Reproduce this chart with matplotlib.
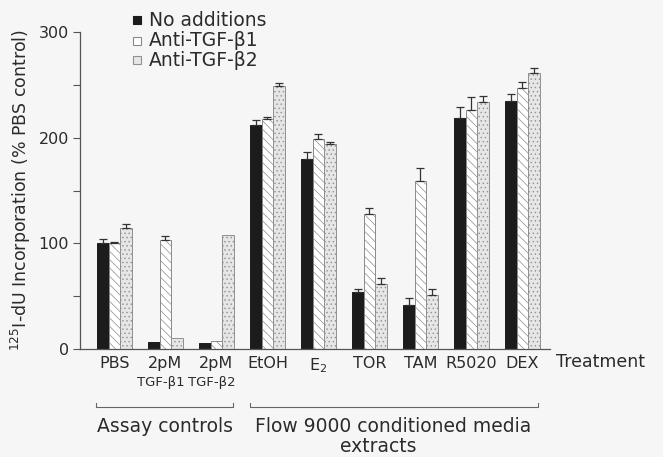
import matplotlib
matplotlib.use("Agg")
import matplotlib.pyplot as plt
import numpy as np

# ---- data ----
categories = ["PBS", "2pM", "2pM", "EtOH", "E$_2$", "TOR", "TAM", "R5020", "DEX"]
sublabels = ["", "TGF-β1", "TGF-β2", "", "", "", "", "", ""]
series_names = ["No additions", "Anti-TGF-β1", "Anti-TGF-β2"]
no_additions = [100, 6.3, 6.0, 212, 179.5, 54, 41.3, 219, 235]
anti_b1 = [100, 103, 7.9, 218, 198.4, 127.4, 159, 226, 246.6]
anti_b2 = [114.8, 10.1, 108, 248.8, 193.7, 61.2, 50.8, 233.4, 261.4]
err_none = [3.8, 0, 0, 4.7, 7, 2.5, 6.6, 10, 6.3]
err_b1 = [1, 4, 0, 2, 4.7, 5.7, 12, 12.6, 6]
err_b2 = [3.5, 0, 0, 2.5, 2.6, 6, 5.7, 6, 5]
yticks_major = [0, 100, 200, 300]
yticks_minor = [50, 150, 250]

TXT = "#2b2b2b"
LINE = "#555555"
BG = "#f6f6f6"
plt.rcParams['font.family'] = ['DejaVu Sans']
plt.rcParams['hatch.linewidth'] = 0.5

fig = plt.figure(figsize=(6.63, 4.57), dpi=100, facecolor=BG)
W, H = 663, 457
ax = fig.add_axes([80 / W, 1 - 349 / H, 470 / W, 317 / H])
ax.set_facecolor(BG)

x = np.arange(len(categories))
bw = 0.229
styles = [
    dict(color="#1c1c1c", edgecolor="#1c1c1c"),
    dict(color="white", edgecolor="#8a8a8a", hatch="\\\\\\\\"),
    dict(color="#e6e6e6", edgecolor="#909090", hatch="...."),
]
series = [no_additions, anti_b1, anti_b2]
errs = [err_none, err_b1, err_b2]
for i, (vals, e, st) in enumerate(zip(series, errs, styles)):
    pos = x + (i - 1) * bw
    ax.bar(pos, vals, width=bw, linewidth=0.7, **st, zorder=2)
    e = np.array(e)
    m = e > 0
    ax.errorbar(pos[m], np.array(vals)[m], yerr=[np.zeros(m.sum()), e[m]],
                fmt="none", ecolor="#333333", elinewidth=0.9, capsize=2.8,
                capthick=0.9, zorder=3)

ax.set_xlim(-0.676, 8.54)
ax.set_ylim(0, 300)
for s in ["top", "right"]:
    ax.spines[s].set_visible(False)
for s in ["left", "bottom"]:
    ax.spines[s].set_color(LINE)
    ax.spines[s].set_linewidth(0.9)
ax.set_yticks(yticks_major)
ax.set_yticks(yticks_minor, minor=True)
ax.tick_params(axis="y", which="both", direction="out", length=5, width=0.8,
               color=LINE, labelsize=11.5, labelcolor=TXT, pad=3)
ax.set_xticks(x)
ax.set_xticklabels(categories, fontsize=11.5, color=TXT)
ax.tick_params(axis="x", length=0, pad=5)

for xi, lab in zip(x, sublabels):
    if lab:
        ax.text(xi - 0.1, -0.107, lab, transform=ax.get_xaxis_transform(),
                ha="center", va="center", fontsize=9.5, color=TXT)

ax.text(601 / W, 1 - 362 / H, "Treatment", transform=fig.transFigure,
        ha="center", va="center", fontsize=12.5, color=TXT)

ax.set_ylabel("$^{125}$I-dU Incorporation (% PBS control)", fontsize=12.5,
              color=TXT, labelpad=4)

# brackets
tr = ax.get_xaxis_transform()
by, bt = -0.182, 0.012
for x0, x1 in [(0 - 0.363, 2 + 0.32), (3 - 0.343, 8 + 0.30)]:
    ax.plot([x0, x0, x1, x1], [by + bt, by, by, by + bt], color="#666666",
            lw=0.8, transform=tr, clip_on=False)
fig.text(165 / W, 1 - 426.5 / H, "Assay controls", ha="center", va="center",
         fontsize=13.5, color=TXT)
fig.text(393 / W, 1 - 426.5 / H, "Flow 9000 conditioned media", ha="center",
         va="center", fontsize=13.5, color=TXT)
fig.text(378 / W, 1 - 446 / H, "extracts", ha="center", va="center",
         fontsize=13.5, color=TXT)

# legend
ly = [20, 40.5, 60]
for yy, name, st in zip(ly, series_names, styles):
    fig.patches.append(matplotlib.patches.Rectangle(
        (133 / W, 1 - (yy + 4) / H), 8 / W, 8 / H, transform=fig.transFigure,
        facecolor=st["color"], edgecolor=st["edgecolor"], linewidth=0.8))
    fig.text(149 / W, 1 - yy / H, name, ha="left", va="center",
             fontsize=13.5, color=TXT)

fig.savefig("out.png", dpi=100, facecolor=BG)
